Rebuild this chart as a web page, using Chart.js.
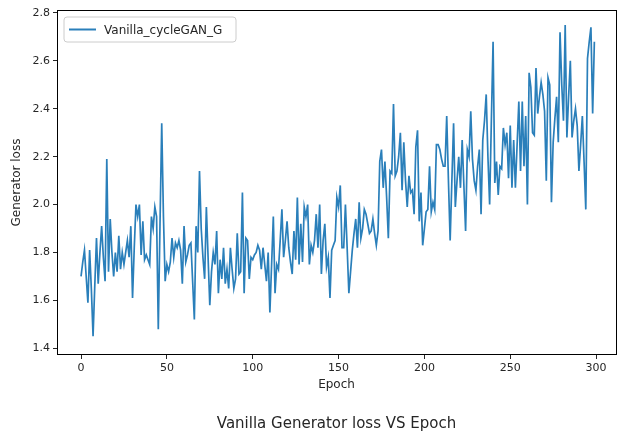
<!DOCTYPE html>
<html><head><meta charset="utf-8">
<script src="https://cdn.jsdelivr.net/npm/chart.js@4/dist/chart.umd.min.js"></script>
<style>html,body{margin:0;padding:0;background:#fff}#wrap{width:618px;height:433px;position:relative}</style>
</head><body><div id="wrap"><canvas id="c" width="618" height="433"></canvas></div>
<script>
const seriesName = 'Vanilla_cycleGAN_G';
const chartTitle = 'Vanilla Generator loss VS Epoch';
const xLabel = 'Epoch';
const yLabel = 'Generator loss';
const xTicks = [0, 50, 100, 150, 200, 250, 300];
const yTicks = [1.4, 1.6, 1.8, 2.0, 2.2, 2.4, 2.6, 2.8];
const lossG = [
1.70,1.76,1.81,1.70,1.59,1.81,1.65,1.45,1.66,1.86,
1.67,1.80,1.91,1.78,1.68,2.19,1.72,1.94,1.80,1.70,
1.80,1.72,1.87,1.73,1.80,1.75,1.80,1.85,1.78,1.91,
1.61,1.82,2.00,1.95,2.00,1.79,1.93,1.77,1.79,1.77,
1.75,1.95,1.90,1.99,1.95,1.48,1.92,2.34,1.95,1.68,
1.75,1.72,1.76,1.86,1.78,1.84,1.82,1.85,1.81,1.67,
1.91,1.76,1.79,1.83,1.84,1.68,1.52,1.91,1.80,2.14,
1.90,1.78,1.69,1.99,1.78,1.58,1.72,1.80,1.75,1.89,
1.63,1.77,1.69,1.82,1.67,1.73,1.65,1.82,1.73,1.65,
1.69,1.88,1.71,1.72,2.05,1.63,1.86,1.85,1.69,1.78,
1.77,1.79,1.80,1.83,1.81,1.73,1.82,1.75,1.68,1.80,
1.55,1.75,1.95,1.63,1.75,1.73,1.85,1.98,1.78,1.85,
1.93,1.82,1.76,1.71,1.89,1.77,2.03,1.75,1.92,1.76,
1.99,1.95,2.00,1.75,1.83,1.80,1.85,1.96,1.82,2.00,
1.71,1.85,1.92,1.74,1.78,1.61,1.81,1.83,1.85,2.03,
1.99,2.08,1.82,1.82,2.00,1.82,1.63,1.72,1.81,1.88,
1.94,1.82,2.01,1.86,1.90,1.98,1.96,1.92,1.88,1.89,
1.94,1.88,1.83,1.89,2.18,2.23,2.07,2.18,2.03,1.86,
2.14,2.13,2.42,2.12,2.14,2.20,2.30,2.06,2.26,2.10,
1.99,2.12,2.05,2.06,1.96,2.24,2.31,1.93,2.05,1.83,
1.90,1.97,1.98,2.16,1.97,2.01,1.98,2.25,2.25,2.23,
2.19,2.16,2.16,2.37,2.10,1.85,2.10,2.34,1.99,2.10,
2.20,2.07,2.27,2.08,1.89,2.23,2.20,2.39,2.19,2.10,
2.06,2.16,2.23,1.96,2.27,2.35,2.46,2.20,2.00,2.35,
2.68,2.09,2.18,2.04,2.16,2.15,2.32,2.25,2.30,2.11,
2.33,2.07,2.27,2.07,2.25,2.43,2.14,2.43,2.16,2.37,
2.00,2.55,2.49,2.30,2.29,2.57,2.38,2.45,2.51,2.46,
2.39,2.10,2.53,2.50,2.01,2.26,2.36,2.45,2.26,2.72,
2.50,2.35,2.75,2.28,2.45,2.60,2.28,2.35,2.40,2.33,
2.14,2.25,2.37,2.18,1.98,2.61,2.68,2.74,2.38,2.68
];
const epochs = lossG.map((_, i) => i);

const FONT = "'DejaVu Sans', sans-serif";
const TXT = '#262626';

const framePlugin = {
  id: 'frame',
  afterDraw(chart) {
    const {ctx, chartArea: a} = chart;
    ctx.save();
    ctx.strokeStyle = '#000';
    ctx.lineWidth = 1;
    ctx.strokeRect(Math.round(a.left) + 0.5, Math.round(a.top) + 0.5,
      Math.round(a.right - a.left), Math.round(a.bottom - a.top) - 1);
    // legend
    const x0 = a.left + 7, y0 = a.top + 7, w = 172, h = 25, r = 3;
    ctx.beginPath();
    ctx.moveTo(x0 + r, y0);
    ctx.arcTo(x0 + w, y0, x0 + w, y0 + h, r);
    ctx.arcTo(x0 + w, y0 + h, x0, y0 + h, r);
    ctx.arcTo(x0, y0 + h, x0, y0, r);
    ctx.arcTo(x0, y0, x0 + w, y0, r);
    ctx.closePath();
    ctx.fillStyle = 'rgba(255,255,255,0.8)';
    ctx.fill();
    ctx.strokeStyle = '#cccccc';
    ctx.lineWidth = 1;
    ctx.stroke();
    const ly = y0 + h / 2;
    ctx.beginPath();
    ctx.moveTo(x0 + 5, ly);
    ctx.lineTo(x0 + 32, ly);
    ctx.strokeStyle = '#2a7fba';
    ctx.lineWidth = 2;
    ctx.stroke();
    ctx.fillStyle = TXT;
    ctx.font = '12px ' + FONT;
    ctx.textBaseline = 'middle';
    ctx.textAlign = 'left';
    ctx.fillText(chart.data.datasets[0].label, x0 + 40, ly + 1);
    ctx.restore();
  }
};

new Chart(document.getElementById('c'), {
  type: 'line',
  data: {
    datasets: [{
      label: seriesName,
      data: epochs.map((e, i) => ({x: e, y: lossG[i]})),
      borderColor: '#2a7fba',
      borderWidth: 1.7,
      pointRadius: 0,
      tension: 0,
      fill: false
    }]
  },
  options: {
    responsive: false,
    animation: false,
    devicePixelRatio: 1,
    layout: {padding: {left: 0, top: 10, right: 2, bottom: 0}},
    plugins: {
      legend: {display: false},
      tooltip: {enabled: false},
      title: {
        display: true, position: 'bottom', fullSize: false, text: chartTitle,
        color: TXT, font: {family: FONT, size: 15, weight: 'normal'},
        padding: {top: 0, bottom: 0}
      }
    },
    scales: {
      x: {
        type: 'linear', min: -14, max: 311.6,
        afterBuildTicks: s => { s.ticks = xTicks.map(v => ({value: v})); },
        afterFit: s => { s.height = 60; },
        ticks: {color: TXT, font: {family: FONT, size: 11}, padding: 3, maxRotation: 0,
          callback: v => String(v)},
        grid: {drawOnChartArea: false, drawTicks: true, tickLength: 4, tickColor: '#262626', tickWidth: 1},
        border: {display: false},
        title: {display: true, text: xLabel, color: TXT, font: {family: FONT, size: 12}, padding: {top: 2, bottom: 23}}
      },
      y: {
        type: 'linear', min: 1.372, max: 2.8125,
        afterBuildTicks: s => { s.ticks = yTicks.map(v => ({value: v})); },
        afterFit: s => { s.width = 57; },
        ticks: {color: TXT, font: {family: FONT, size: 11}, padding: 3,
          callback: v => Number(v).toFixed(1)},
        grid: {drawOnChartArea: false, drawTicks: true, tickLength: 4, tickColor: '#262626', tickWidth: 1},
        border: {display: false},
        title: {display: true, text: yLabel, color: TXT, font: {family: FONT, size: 12}, padding: {top: 10, bottom: 0}}
      }
    }
  },
  plugins: [framePlugin]
});
</script>
</body></html>
